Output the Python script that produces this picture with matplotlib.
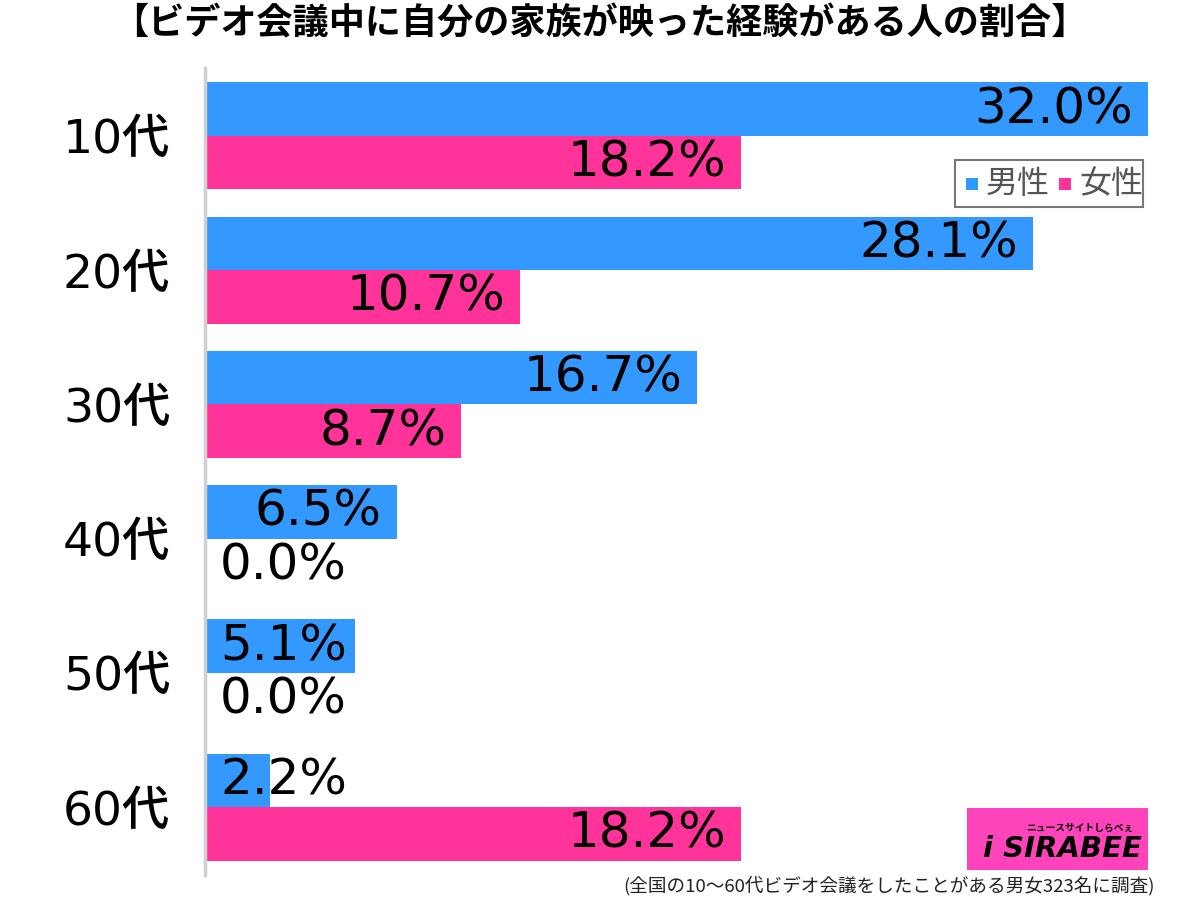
import matplotlib.pyplot as plt
from matplotlib.patches import Rectangle

plt.rcParams['font.family'] = ['Noto Sans CJK JP', 'DejaVu Sans']
num_font = ['DejaVu Sans', 'Noto Sans CJK JP']

title = '【ビデオ会議中に自分の家族が映った経験がある人の割合】'
note = '(全国の10〜60代ビデオ会議をしたことがある男女323名に調査)'
ages = ['10代', '20代', '30代', '40代', '50代', '60代']
male = [32.0, 28.1, 16.7, 6.5, 5.1, 2.2]
female = [18.2, 10.7, 8.7, 0.0, 0.0, 18.2]
series_names = ['男性', '女性']
colors = ['#3399ff', '#ff3399']

W, H = 1200, 897
fig = plt.figure(figsize=(W / 100, H / 100), dpi=100)
ax = fig.add_axes([205 / W, (H - 875) / H, (1150 - 205) / W, (875 - 68) / H])

bar_h = 0.398
px_per_unit = (1148 - 205) / 32.0
ax.set_xlim(0, (1150 - 205) / px_per_unit)
ax.set_ylim(5.506, -0.506)

ys = list(range(len(ages)))
for vals, off, col in [(male, -bar_h / 2, colors[0]), (female, bar_h / 2, colors[1])]:
    ax.barh([y + off for y in ys], vals, height=bar_h, color=col, edgecolor='none')
    for y, v in zip(ys, vals):
        # ラベルは棒の右端から少し内側、短い棒は左寄せ
        lab = '%.1f%%' % v
        x_end = v - 15 / px_per_unit
        if x_end < 142 / px_per_unit:
            ax.text(15 / px_per_unit, y + off, lab, ha='left', va='center',
                    fontsize=36, color='black', family=num_font)
        else:
            ax.text(x_end, y + off, lab, ha='right', va='center',
                    fontsize=36, color='black', family=num_font)

for s in ['top', 'right', 'bottom']:
    ax.spines[s].set_visible(False)
ax.spines['left'].set_color('#d0d0d0')
ax.spines['left'].set_linewidth(2.5)
ax.set_xticks([])
ax.set_yticks(ys)
ax.set_yticklabels(ages, fontsize=34, family=num_font, fontweight='medium')
ax.tick_params(axis='y', length=0, pad=25)

fig.text(600 / W, 1 - 24 / H, title, ha='center', va='center',
         fontsize=26, fontweight='bold')
fig.text(1155 / W, 1 - 886 / H, note, ha='right', va='center',
         fontsize=13.4, color='#222222')

# 凡例
fig.patches.append(Rectangle((955 / W, 1 - 207 / H), 188 / W, 47 / H,
                             transform=fig.transFigure, facecolor='white',
                             edgecolor='#777777', linewidth=1.5))
for x0, name, col in [(966, series_names[0], colors[0]), (1059, series_names[1], colors[1])]:
    fig.patches.append(Rectangle((x0 / W, 1 - 190 / H), 12 / W, 12 / H,
                                 transform=fig.transFigure, facecolor=col,
                                 edgecolor='none'))
    fig.text((x0 + 20) / W, 1 - 184 / H, name, ha='left', va='center',
             fontsize=23, color='#555555')

# ロゴ
fig.patches.append(Rectangle((967 / W, 1 - 870 / H), 181 / W, 62 / H,
                             transform=fig.transFigure, facecolor='#ff44bb',
                             edgecolor='none'))
fig.text(1080 / W, 1 - 828 / H, 'ニュースサイトしらべぇ', ha='center', va='center',
         fontsize=7, fontweight='bold', color='black')
fig.text(1062 / W, 1 - 849 / H, 'i SIRABEE', ha='center', va='center',
         fontsize=21, fontweight='bold', style='italic', color='black',
         family='DejaVu Sans')

fig.savefig('out.png', dpi=100)
